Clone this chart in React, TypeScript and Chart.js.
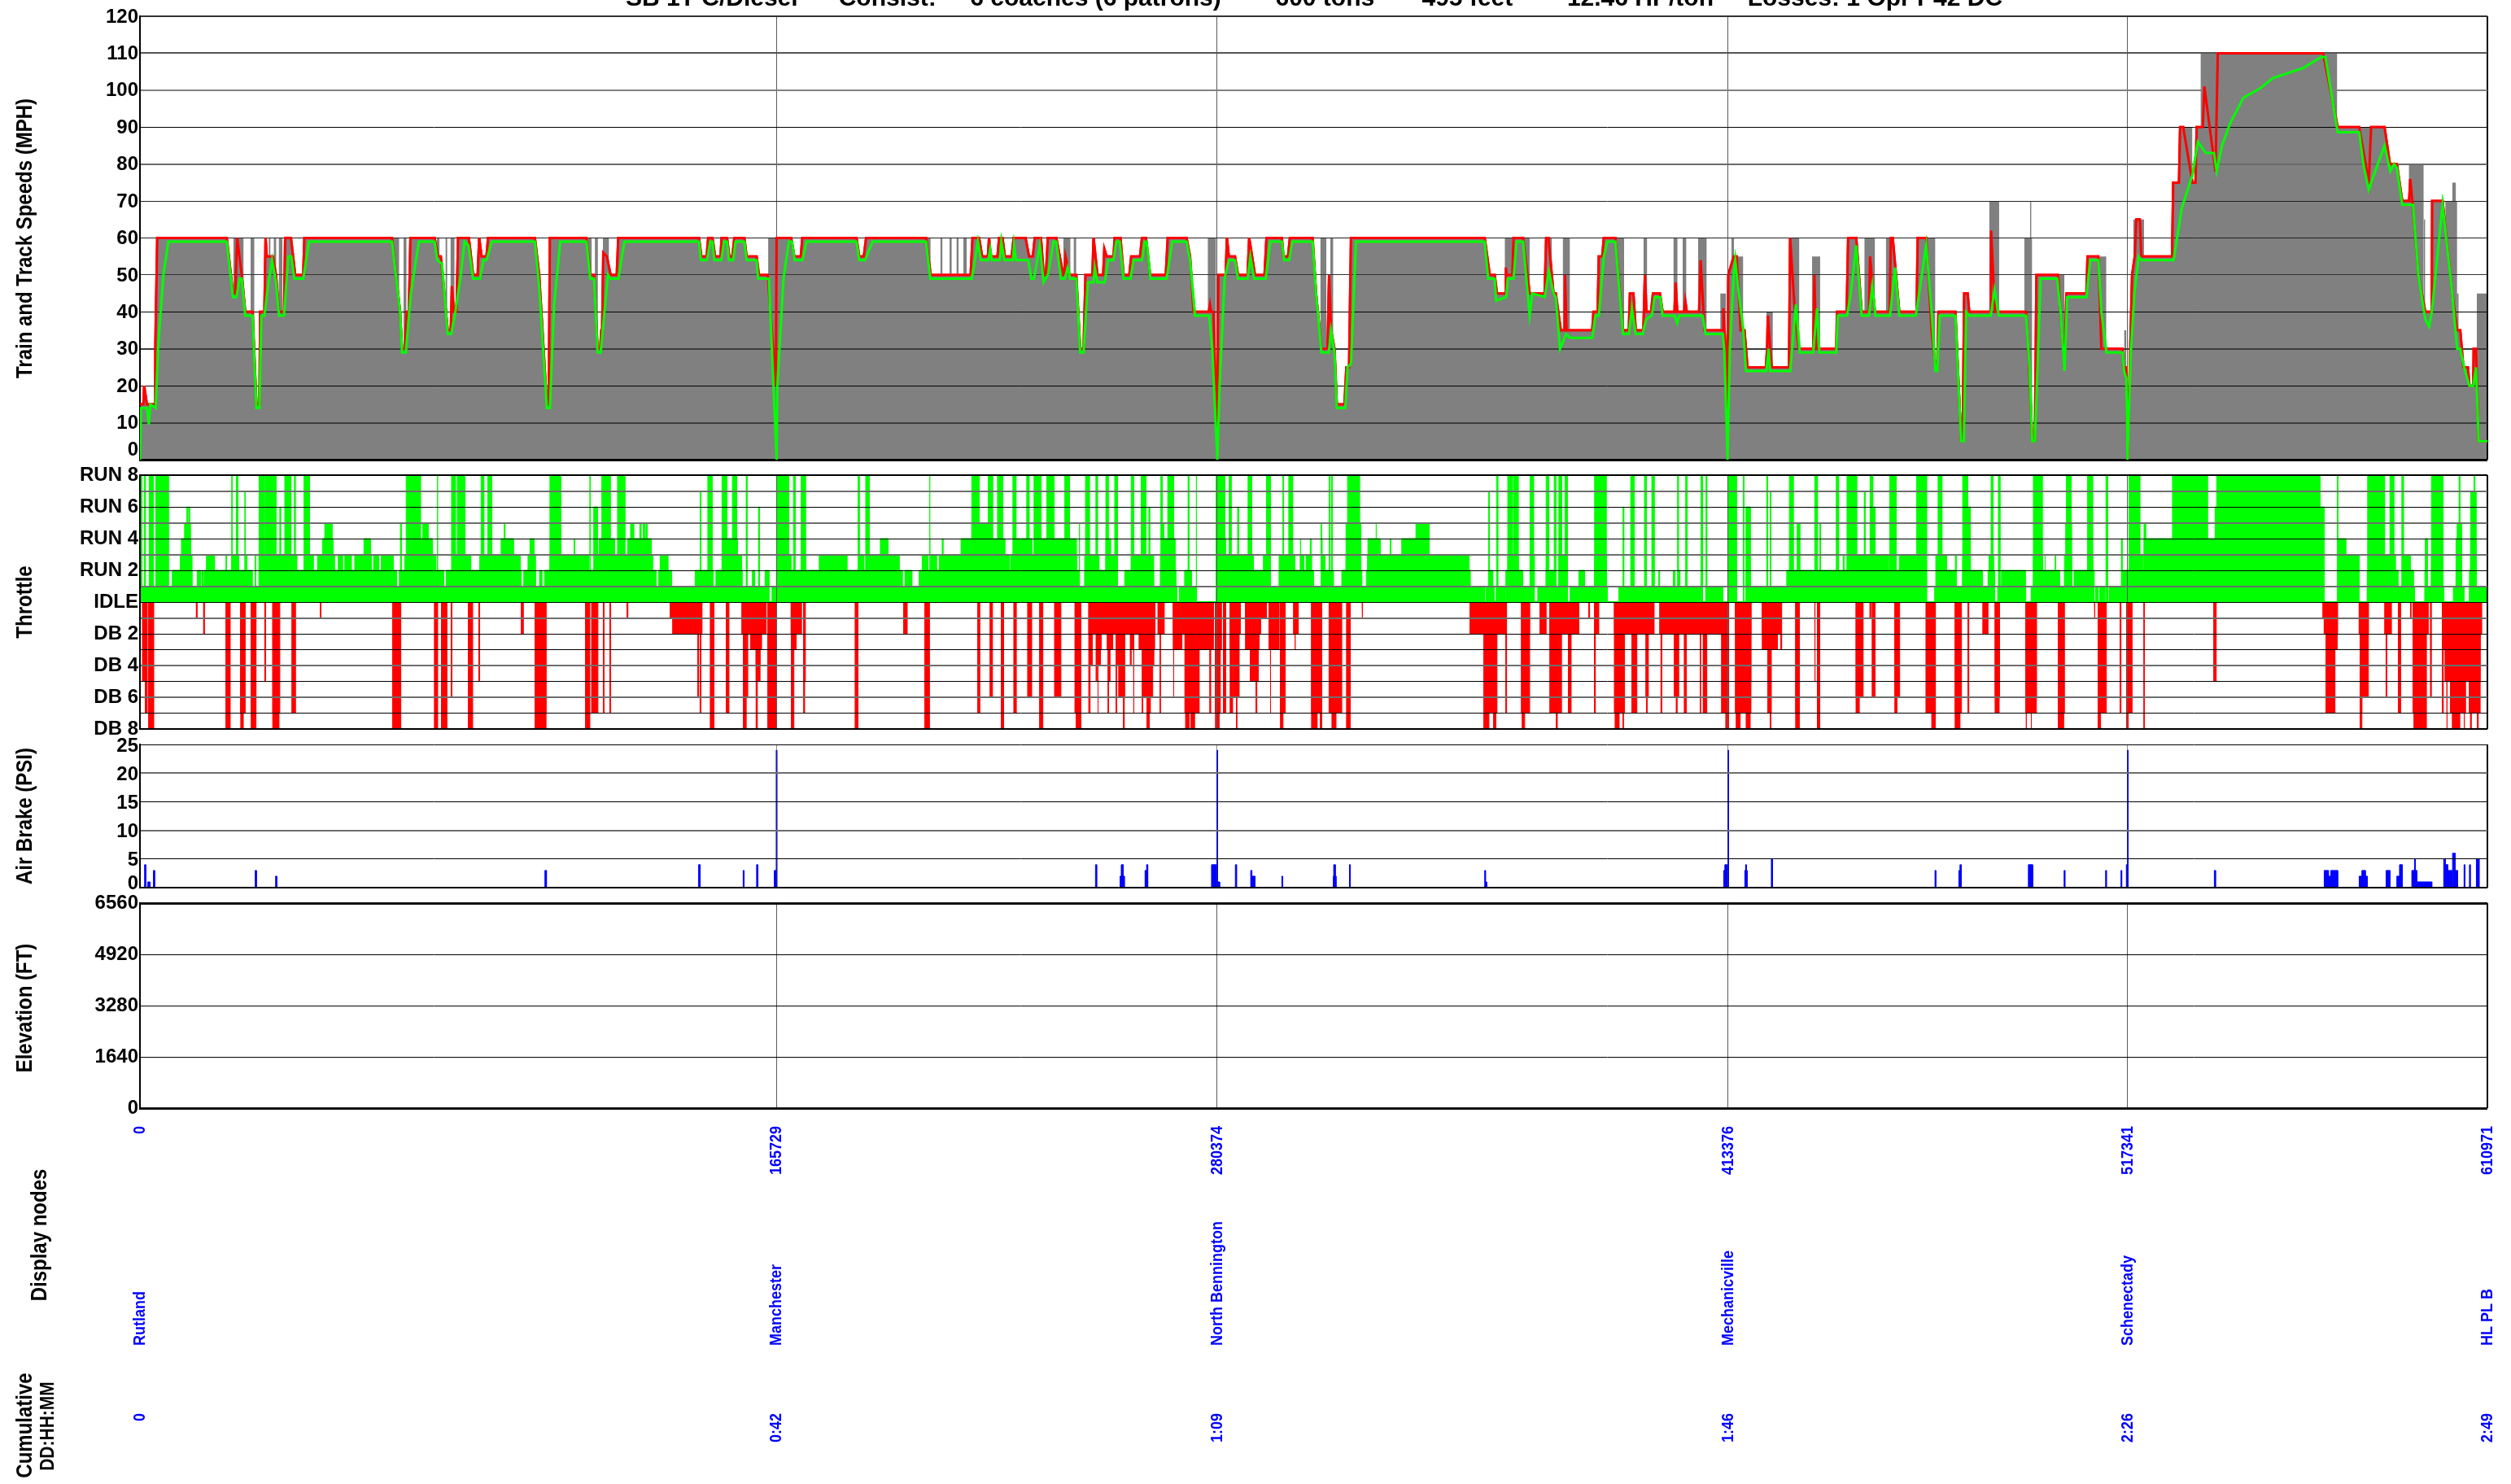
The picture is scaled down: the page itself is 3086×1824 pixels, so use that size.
import React, { useEffect, useRef } from "react";
import { Chart, registerables } from "chart.js";

Chart.register(...registerables);

const FONT = '"Liberation Sans", Arial, sans-serif';

// Route axis, in thousands of feet from Rutland
const routeEnd = 610.971;
const nodeFeet = [0, 165729, 280374, 413376, 517341, 610971];
const nodeNames = ["Rutland", "Manchester", "North Bennington", "Mechanicville", "Schenectady", "HL PL B"];
const nodeTimes = ["0", "0:42", "1:09", "1:46", "2:26", "2:49"];
const speedTicks = [0, 10, 20, 30, 40, 50, 60, 70, 80, 90, 100, 110, 120];
const brakeTicks = [0, 5, 10, 15, 20, 25];
const elevationTicks = [0, 1640, 3280, 4920, 6560];
const titleText = "SB 1T C/Diesel      Consist:     6 coaches (6 patrons)        600 tons       495 feet        12.46 HP/ton     Losses: 1 Opr P42 DC";

// Speed limit (red), [kft, mph]
const trackLimit = [
  [0,15],[0.9,15],[1.1,20],[1.8,15],[3.9,15],[4,30],[4.5,60],[22.6,60],[24.2,45],[24.8,45],[25.3,60],[26.5,50],[27.4,40],[29.3,40],[30.3,15],[31.1,15],[31.3,40],[32.4,40],[32.7,60],[33,55],[34.6,55],[35.4,50],[36.2,40],[37.5,40],[37.8,60],[39.3,60],[40.4,50],[42.5,50],[42.8,60],
  [65.6,60],[67.7,40],[68.2,30],[69,30],[69.4,40],[70,40],[70.4,60],[76.7,60],[77.6,55],[78.3,55],[80.1,35],[80.9,35],[81.2,47],[81.7,40],[82.4,40],[82.8,60],[85.6,60],[86.7,50],[87.9,50],[88.3,60],[88.9,55],[90.2,55],[90.6,60],[102.8,60],[103.9,50],[105.9,15],[106.4,15],[106.7,60],[116.2,60],[117.2,50],[118.2,50],[119.1,30],[119.8,30],[120.1,35],[120.3,35],[120.6,56],[121.5,55],[122.5,50],[124.1,50],[124.5,60],
  [145.5,60],[146.1,55],[147.5,55],[147.9,60],[149,60],[149.7,55],[151.1,55],[151.4,60],[152.8,60],[153.4,55],[154.2,55],[154.7,60],[157.3,60],[157.9,55],[160.5,55],[161.1,50],[163.4,50],[165.5,20],[165.7,60],[169.5,60],[170.3,55],[172,55],[172.4,60],
  [186.5,60],[187.2,55],[188.4,55],[189,60],[204.6,60],[205.8,50],[216.2,50],[216.7,60],[218.4,60],[219.2,55],[220.7,55],[221,60],[221.4,55],[223.2,55],[223.6,60],[224.5,60],[225.1,55],[226.9,55],[227.4,60],[230.5,60],[231.4,55],[232.4,55],[232.9,60],[234.5,60],[235.2,50],[235.8,50],[236.3,60],[238.5,60],[240.3,50],[240.6,50],[240.9,55],[241.9,50],[243.7,50],[244.7,30],[245.6,30],[246.1,50],[247.9,50],[248.2,60],[249.2,50],[250.7,50],[251,57],[251.6,55],[253.4,55],[253.7,60],[255.2,60],[256,50],[257.5,50],[258,55],[260.3,55],[260.8,60],[261.8,60],[262.9,50],[267,50],[267.5,60],[272.4,60],[273.3,55],[274.2,40],[278.2,40],[278.5,42],[278.8,40],[279.4,40],[280.3,5],[280.7,50],[282.6,50],[282.9,60],[283.4,55],[285,55],[285.8,50],[288.3,50],[288.7,60],[290.2,50],[292.7,50],[293.2,60],[297.2,60],[297.6,55],[298.8,55],[299.3,60],[305.2,60],[306.1,45],[307.5,30],[309.1,30],[309.5,50],[310,35],[310.9,30],[311.5,15],[313.5,15],[314,25],[314.7,25],[315.2,60],
  [350,60],[351.3,50],[352.6,50],[353.2,45],[355.4,45],[355.5,52],[355.7,50],[357.2,50],[357.5,60],[360,60],[361.7,45],[365.6,45],[366,60],[366.6,60],[367.9,45],[368.5,45],[369.8,35],[370.8,35],[370.9,50],[371.3,35],[372.4,35],[378,35],[378.3,40],[379.4,40],[379.7,55],[380.6,55],[381,60],[384,60],[386,35],[387.5,35],[387.8,45],[388.7,45],[389.3,35],[391.3,35],[391.7,50],[392.1,40],[393.3,40],[393.8,45],[395.6,45],[396.3,40],
  [399.4,40],[399.7,48],[400.1,40],[401.9,40],[402.2,43],[402.6,40],[405.8,40],[406.2,54],[407.2,35],[412,35],[412.1,41],[412.7,30],[413.1,5],[413.4,50],[414.8,55],[415.6,55],[416.6,35],[417.6,35],[418.4,25],[423.2,25],[423.5,30],[423.7,39],[424.3,30],[424.7,25],[429.2,25],[429.5,60],[430.6,42],[431.7,30],[435.5,30],[435.8,50],[436.3,30],[441.5,30],[441.7,40],[444.2,40],[444.6,60],[446.7,60],[448.1,40],[450,40],[450.3,55],[451.5,40],[455.4,40],[455.7,60],[456.2,60],[457.9,40],[462.4,40],[462.7,60],[464.9,60],[466.3,35],[467.3,25],[467.8,25],[468.1,40],[472.5,40],[474,5],[474.4,5],[474.8,45],[475.7,45],[476.1,40],[481.7,40],[481.8,62],[482.8,40],[490.9,40],[491.5,30],[492.5,5],[493.2,5],[493.6,50],[499.2,50],[500.9,25],[501.4,45],[506.6,45],[506.9,55],[509.7,55],[510.5,30],[511.8,30],[516,30],[516.3,25],[517,25],[517.3,0],[518.5,50],[519.2,55],[519.6,65],[520.5,65],[520.9,55],
  [528.9,55],[529.2,75],[530.7,75],[531,90],[531.8,90],[534.2,75],[535,75],[535.3,90],[536.9,90],[537.3,101],[540.2,78],[540.8,110],[568.2,110],[572,90],[577.6,90],[580.1,75],[580.7,90],[584.2,90],[585.6,80],[587.4,80],[588.8,70],[590.6,70],[590.9,76],[591.6,68],[593,50],[594.8,40],[596.5,40],[596.6,70],[599.3,70],[601.8,45],[603.1,35],[603.9,35],[604.7,25],[605.9,25],[606.3,20],[607.3,20],[607.4,30],[608,30],[608.7,5],[611,5],
];

// Train speed (green), [kft, mph]
const trainSpeed = [
  [0,0],[0.3,14],[1.1,14],[1.8,14],[2.3,9.5],[2.7,15],[4.1,14],[4.7,30],[6.1,50],[7.4,59],[22.6,59],[24.2,44],[25.1,44],[26,49],[26.5,49],[27.4,39],[29.3,39],[30.3,14],[31.1,14],[31.6,39],[32.4,39],[33.2,46],[34.4,54],[35.4,48],[36.2,39],[37.5,39],[38.6,55],[39.4,55],[40.2,49],[42.5,49],[44,59],
  [65.6,59],[67.7,40],[68.2,29],[69.2,29],[70.5,45],[72.6,59],[76.7,59],[77.4,54],[78.6,53],[80.1,34],[81,34],[82.1,40],[83.5,50],[84.5,59],[85.5,58],[86.7,49],[88.5,49],[89.4,54],[90.2,54],[91.6,59],[102.8,59],[103.9,47],[105.9,14],[106.7,14],[107.8,42],[109.4,59],[116.2,59],[117.2,49],[118.2,49],[119.1,29],[119.9,29],[120.9,40],[121.8,50],[122.5,49],[124.5,49],[126.1,59],
  [145.5,59],[146,54],[147.6,54],[148.4,59],[149,59],[149.5,54],[151.3,54],[152,59],[152.8,59],[153.3,54],[154.4,54],[155,59],[157.3,59],[157.9,54],[160.5,54],[160.9,49],[163.7,49],[165.7,0],[165.9,20],[167.5,49],[168.9,59],[169.7,59],[170.4,54],[172.4,54],[173.5,59],
  [186.5,59],[187.2,54],[188.7,54],[190.7,59],[204.6,59],[205.7,49],[216.5,49],[218.1,59],[218.9,54],[220.8,54],[221.3,57],[221.7,54],[223.8,54],[224.2,59],[225,54],[227.2,54],[227.5,58],[228,54],[231.2,54],[232,49],[232.7,49],[234.2,58],[235.2,48],[236.3,50],[237.8,59],[238.5,59],[239.7,49],[240.7,49],[241.5,52],[242.1,49],[243.7,49],[244.7,29],[245.6,29],[246.7,48],[248.2,48],[248.5,52],[249.2,48],[251.1,48],[252,54],[253.4,54],[254.1,59],[255,59],[256,49],[257.8,49],[258.6,54],[260.8,54],[261.5,59],[262,59],[263,49],[267.2,49],[268.7,59],[272.4,59],[273.3,54],[274.6,39],[278.3,39],[279.1,30],[280.4,0],[281,20],[282.3,49],[283.4,54],[285,54],[285.8,49],[288.3,49],[289,55],[290,49],[293,49],[294.2,59],[297.2,59],[297.8,54],[299.1,54],[299.9,59],[305.2,59],[306.1,45],[307.5,29],[309.4,29],[310,35],[310.9,29],[311.5,14],[313.7,14],[314.3,25],[315.2,26],[316.5,59],
  [350,59],[350.9,49],[352.6,49],[353,43],[355.6,44],[356,49],[357.5,49],[358.3,59],[360,59],[361.7,39],[362.4,45],[365.6,44],[366.7,51],[367.9,45],[368.5,44],[369.6,30],[371.2,34],[372.2,33],[378,33],[378.8,39],[379.7,39],[381,55],[381.9,59],[384,59],[386,34],[387.5,34],[388.3,41],[389.3,34],[391.1,34],[392,38],[393.5,39],[394.2,44],[395.7,44],[396.3,39],
  [399.4,39],[400.1,37],[400.6,39],[405.8,39],[406.7,39],[407.5,34],[412,34],[412.4,29],[413.2,0],[413.8,30],[414.8,50],[415.2,54],[415.9,47],[417.3,35],[418,24],[423.3,24],[423.9,30],[424.3,24],[429.5,24],[431,42],[432,29],[435.5,29],[436.5,41],[437.1,29],[441.5,29],[441.9,39],[444.3,39],[445.3,45],[446.7,58],[448.1,39],[450,39],[450.9,47],[451.7,39],[455.5,39],[456.8,52],[457.9,39],[462.2,39],[463.5,48],[464.9,58],[466.3,40],[467.3,24],[467.8,24],[468.4,39],[472.5,39],[474,5],[474.7,5],[475.3,40],[476.1,39],[481.7,39],[482.7,46],[483.8,39],[490.9,39],[491.8,25],[492.5,5],[493.2,5],[494.7,49],[499,49],[499.9,40],[500.9,24],[501.6,44],[506.6,44],[507.6,54],[509.7,54],[510.5,40],[511.8,29],[516,29],[516.4,24],[517,22],[517.3,0],[518.1,28],[519.1,45],[520.2,55],[520.9,54],
  [529.3,54],[531.4,68],[534.2,77],[535.6,86],[537.7,83],[539.8,83],[540.5,78],[541.9,85],[544,91],[547.5,98],[551.7,100.4],[555.2,103.3],[563,106],[567.8,109],[568.8,109],[572,88.6],[577.6,88.6],[578.7,80],[580.1,73],[580.7,75],[584.2,85],[585.7,78],[586.7,80],[587.4,79],[588.8,69],[591.6,69],[593,50],[594.8,38],[595.8,36],[596.5,40],[599.3,69],[601.8,45],[603.1,30],[603.9,30],[604.9,25],[606.3,20],[607.3,20],[608,25],[608.7,5],[611,5],
];

// Track-speed grey that stands above the red line, [start, end, mph]
const trackBands = [
  [24.3,27,60],[28.8,29.8,60],[33.5,34,60],[34.8,35.5,60],[36.1,37.1,60],[65.5,67.5,60],[68.6,69.4,60],[77.3,78,60],[79.5,80,60],[80.8,81.9,60],[116.5,117.6,60],[118.4,119.2,60],[120.5,122.1,60],[163.5,165.7,60],
  [204.8,205.8,60],[208.3,208.9,60],[210.7,211.3,60],[212.5,213.1,60],[214.3,215.2,60],[240.3,242.2,60],[243,243.7,60],[277.9,280.1,60],[307.2,308.8,60],[309.8,310.6,60],[355.2,357.2,60],[360,361.7,60],[366,367.5,60],[370.3,372.2,60],[383.8,386.3,60],[391.3,392.3,60],[399.1,400.2,60],[401.5,402.5,60],[405.5,407.8,60],[411.3,412.8,45],[414.2,414.9,60],[415.1,417.3,55],[423.3,425,40],[429.5,431.9,60],[435.2,437.3,55],[448.8,449.9,60],[449.8,451.6,60],[454.4,456.5,60],[464.9,467.3,60],[481.3,483.9,70],[491.9,492.3,70],[490.4,492.5,60],[499.2,500.9,50],[509.7,511.8,55],[516.4,517,35],[518.8,521.6,65],
  [532,534.2,90],[536.3,540.8,110],[568.2,571.9,110],[577.6,584.3,90],[584.3,588,80],[590.5,594.4,80],[594.4,594.8,65],[601.8,602.8,75],[600,603.1,70],[603,603.5,45],[608.2,611,45],
];
// Pale seams in the grey fill, [kft, mph]
const paleSeams = [[23.6,44],[41,50],[80.5,35],[87.2,50],[152.9,60],[185.8,60],[212.2,50],[225.6,55],[256,50],[312.2,15],[370.2,35],[513.6,30],[600.3,55]];

// Throttle notches: stretches of route at or above each notch, [start, end] in kft
const run8 = [[0.3,0.5],[1.2,1.4],[2.4,3.5],[4.1,7.4],[23.9,24],[25.1,25.5],[31,32.4],[32.7,34.6],[34.8,35.4],[37.7,39.3],[40.2,40.4],[42.7,44.1],[69.3,73],[77.4,77.5],[81.1,82.1],[82.6,84.6],[88.8,89.5],[90.5,91.5],[106.7,109.5],[117.1,117.2],[120.2,122.4],[124.3,126.2],[147.8,148.9],[151.5,152.7],[154.2,155.3],[157.8,158],[165.7,168.8],[170.1,170.5],[172.1,173.2],
  [186.9,187.2],[188.9,189.8],[205.5,205.6],[216.5,218.4],[220.8,221.9],[223.2,224.5],[227.2,228],[230.8,231.4],[232.7,234.5],[236,237.9],[240.7,241.9],[246.1,247.1],[248.8,249.2],[251.4,252],[253.7,254.4],[258,258.6],[260.6,261.8],[265.7,266.1],[267.5,269],[272.8,273],[274.9,275],[280.1,282.3],[283.5,284],[288.4,289.3],[293.2,294.2],[297.5,297.6],[299,300],[309.5,309.7],[310.1,310.3],[314.3,317.4],[353.1,353.4],[356,357.2],[357.5,358.7],[361.8,362.7],[366,366.6],[368.1,368.5],[369.3,370],[370.9,371.5],[378.6,381.6],[388,388.9],[391.6,392.1],[393.5,394.1],[400.2,400.4],[402.3,402.7],[406.3,406.7],
  [407.6,407.8],[413.5,415.5],[417.3,417.5],[423.4,423.6],[429.3,430.3],[435.9,436.6],[441.5,442.1],[444.3,446.8],[450.3,451],[455.4,457.1],[462.4,465],[468,469],[474.4,475.7],[481.8,482.3],[483.7,484.1],[492.8,495.1],[501.4,502.6],[506.9,508.2],[511.7,512.1],[517.7,520.5],[529,538.1],[540.5,567.4],[571.9,572.1],[579.8,584.2],[585.6,586.6],[588.7,589.1],[596.4,599.4],[603.6,603.8],[607.5,607.7]];
const run7 = [[27.3,27.4],[145.8,146],[351,351.2],[424.3,424.5],[448.8,449],[606.6,608]];
const run6 = [[12.2,12.4],[12.7,12.9],[36.4,36.6],[118.1,119.1],[161,161.2],[262.6,262.8],[285.7,285.9],[386,386.2],[418,419.1],[450.9,451.6],[475.4,476.4],[540.1,568.5]];
const run5 = [[11.6,13.1],[48.1,50],[67.8,68],[73.6,75],[94.8,95],[127.7,128.5],[130.1,130.4],[131,131.3],[131.7,132],[216.5,220.7],[244.4,244.6],[266.2,266.5],[307.4,307.5],[313.9,317.7],[321.7,321.8],[332.1,335.5],[431.3,432],[437.2,437.4],[501.2,502.7],[521.6,522],[603.1,604.3]];
const run4 = [[10.8,13.2],[47.5,50.2],[58.3,60],[73,76.1],[94,97.2],[101.5,102.6],[113,113.1],[119.5,123.5],[126.9,133.1],[151.9,155.5],[192.7,194.7],[205.5,205.6],[208.8,209],[213.7,225.1],[227.4,232.1],[232.7,243.7],[251.4,252.6],[266.3,269.4],[280.1,282.6],[302,302.1],[304.6,304.8],[307.6,307.7],[319.6,322.8],[325.4,325.6],[328.4,335.5],[483.8,484],[515.7,515.9],[521.6,568.5],[572,574.1],[594.8,595.4],[602.8,603.9],[606.6,608]];
const run3 = [[10.5,13.5],[17.3,19.4],[22.4,22.5],[23.9,25.7],[27.7,27.8],[30,30.1],[31,40.8],[42.7,45.1],[46.2,50.6],[51.6,52.7],[53.3,55],[55.9,60.2],[60.8,62.1],[62.8,65.9],[68.9,77],[81.3,86.1],[88.4,99],[101,102.9],[106.7,116.8],[118.8,133.4],[135.4,137.4],[151.5,156.6],[165.7,169.4],[172.1,173.2],
  [176.8,184],[186.9,188.4],[188.9,197.6],[203.6,205.1],[205.8,207.3],[208,226.2],[226.6,243.7],[245.9,249.6],[251.4,254.1],[258,263.8],[265.6,269.4],[280.1,289.8],[292.4,294.2],[296.5,300.5],[302,302.9],[303.5,304.9],[307.6,308.4],[313.9,317.7],[319.5,345.9],[356,358.7],[361.8,362.9],[366,366.6],[369.3,371.5],[378.6,381.6],[443.3,443.5],[444.3,455.1],[457.9,464.9],[467.4,470.2],[472.5,472.7],[474.4,476.4],[481.3,482.4],[492.8,495.1],[495.8,495.9],[498.5,498.6],[500.9,502.7],[506.9,508.2],[517.7,521.2],[521.6,568.5],[572.1,577.6],[580.1,587],[588.8,590.9],[596.4,599.4],[606.6,608.1]];
const run2 = [[8.4,13.5],[14.9,15.7],[16.1,16.4],[16.7,29.2],[31,37.3],[37.8,66.8],[67.5,79.1],[79.7,99.2],[99.9,102.9],[104,104.6],[105.3,134.3],[135,137.7],[138,138.4],[144.5,149.2],[149.9,156.7],[159.4,160],[162.7,163.7],[165.7,198.4],[199.1,200.9],[202.8,244.4],[245.9,254.1],[256.3,263.8],[265.6,269.6],[271.9,273.7],[280.1,294.2],[296.5,305.4],[307.6,310.6],[312.8,318],[319.2,346.2],[351,352.1],[355.5,359.9],[362.3,362.7],[366,368.5],[369.3,371.5],[374.5,376],[378.6,381.6],[395.3,395.5],[399.1,399.5],[400.5,400.8],[402.3,402.5],[413.5,415.5],[418,419.1],[428.6,446.7],[448.4,464.9],[467.7,472.6],[474.4,479.5],[481,482.7],[484.5,490.7],[492.9,499.6],[500.9,502.7],[503.4,508.6],[516,568.5],[571.9,577.6],[579.7,587.7],[588.8,591.7],[594.7,594.9],[596.4,599.4],[602.8,604.2],[606.3,608.1]];
const run1 = [[0,57.4],[57.6,163.5],[164.5,165.2],[165.5,244.2],[244.6,249],[249.3,257.8],[258.3,261.5],[262.6,269.9],[270.5,275],[280.1,350],[350.4,352.5],[353,355.2],[355.8,359.6],[360,362.6],[363.8,366.3],[368.1,371.5],[372.2,381.9],[384.9,406.1],[407.5,412],[413.5,415.6],[418,446.7],[448.2,457.2],[457.9,464.9],[467.1,482.7],[483.5,490.8],[492.2,508.3],[509,509.6],[510,511.4],[512.5,568.5],[571.9,577.6],[579.7,592],[594.7,599.6],[602.1,604.9],[606.3,611]];

// Dynamic-brake notches, [start, end] in kft
const db8 = [[2.3,3.6],[22.4,23.5],[26.3,26.9],[29,30.2],[34.6,36.2],[65.8,67.9],[76.7,77.5],[78.5,79.9],[85.5,86.6],[102.9,105.7],[116,117.1],[148.5,149.4],[157.1,157.8],[160.4,160.7],[163.4,165.6],[169.6,170.2],
  [186.2,186.9],[204.3,205.5],[224.2,224.8],[234.2,235],[243.7,244.9],[256,256.2],[262.1,262.7],[272.2,273.1],[273.6,274.5],[280,280.9],[285.4,285.5],[296.9,297.5],[305,306.4],[307.2,307.6],[310.3,311.3],[314.1,315],[349.8,351.1],[352.3,352.9],[359.8,360.4],[368.7,368.9],[384,385],[386,386.1],
  [412.8,413.5],[415.5,416.5],[418.1,419.1],[424.3,424.5],[431,431.9],[436.6,437.2],[466.4,467.3],[472.5,473.7],[490.9,491],[492.2,492.3],[499.3,500.7],[509.7,510.3],[517.1,517.5],[521.6,521.7],[577.9,578.3],[591.9,595.1],[600.4,600.5],[601.9,603.8],[604.9,605],[606.6,606.8],[608.4,608.6]];
const db7 = [[1.4,1.9],[26.2,27.4],[29,30.2],[34.6,36.4],[39.6,40.5],[102.9,105.7],[117.6,119.2],[120.6,120.8],[122.3,122.5],[145.8,146],[152.6,153.3],[172.8,173],
  [218.1,218.6],[227.5,228.1],[243.4,244.9],[247,247.3],[249.3,249.4],[252,252.1],[254.1,254.2],[258.6,258.7],[260.9,261],[262.1,263],[265.5,265.6],[272,275.7],[278.5,278.7],[280,281.2],[282,282.6],[283.8,284.4],[290.5,290.7],[294.2,294.3],[296.9,298.1],[305,307.6],[309.5,312.8],[314.3,315],[349.8,353.2],[355.5,355.7],[359.6,361.7],[367,370],[371.8,372.5],[378.6,378.8],[383.8,386.4],[388.3,389.6],[392.1,392.3],[395.9,396.1],[399.9,400.1],[402,402.5],[406.1,406.2],[406.9,407.8],[411.7,413.5],[415.3,419.3],[423.7,424.6],[431,431.9],[436.6,437.2],[446.7,447.5],[456.8,457.3],[464.9,467.3],[472.5,474.1],[475.8,476],[482.9,483.9],[490.8,493.6],[499.3,500.9],[509.7,511.8],[515.4,515.6],[517.1,518.5],[569,571.3],[577.9,578.3],[587.8,588.4],[591.6,595],[599.3,599.5],[600.4,600.5],[601.4,605.3],[606.3,609.1]];
const db6 = [[81,81.2],[145.2,145.4],[158,158.2],[221.3,221.9],[231.1,232.1],[238.1,239.7],[243.7,244.9],[254.8,256.3],[261.2,263.6],[269,269.1],[284.6,286.1],[392,392.6],[399.4,400.5],[446.7,448.5],[450.9,451.6],[456.8,458],[482.9,484],[493,493.6],[577.9,580],[584.6,584.8],[596.2,596.4]];
const db5 = [[0.7,1.5],[32.5,32.7],[88.2,88.4],[160.4,161.4],[172.8,173.2],[248.9,249.1],[252.3,252.5],[289,291.1],[418,419.3],[435.9,436],[517.5,518.2],[539.8,540.4],[600,609.1]];
const db4 = [[160.4,161.4],[247.2,247.9],[249,250],[254.5,255.6],[257.8,258],[261,263.9],[273.5,275.5],[424.3,424.5]];
const db3 = [[159,161.8],[169.7,170.8],[249.8,250.2],[251.8,253.2],[254.1,256.3],[257.9,258.5],[260.1,264.1],[269,271.2],[273.4,279.4],[281,281.5],[282,282.6],[283.8,286],[287.8,291.3],[293.9,296.5],[300.6,300.7],[422.3,424.3],[424.4,426.2],[427.1,427.3],[571,571.9],[599.3,609.1]];
const db2 = [[16.6,16.8],[99.3,99.8],[138.7,146.3],[156.7,163],[169.5,172.2],[198.8,199.7],[247,251.1],[251.1,264.2],[265,266.6],[269,279.4],[283.8,286.4],[289,291.7],[293.9,296.3],[300.3,301.5],[346.2,355.6],[359.8,361.7],[364.4,366],[367,374.5],[378.6,379.7],[383.8,394.1],[395.6,398],[397.7,413.4],[415.3,419.3],[422.2,427.1],[479.7,481],[568.5,572],[577.6,580],[584.3,586],[591.6,595.6],[599.3,609.5]];
const db1 = [[14.7,14.9],[47,47.1],[126.8,127],[138,138.7],[283.8,286.4],[287.8,288.2],[291.7,293.2],[318.1,318.2],[377.1,377.3],[450.3,450.5],[508.7,508.8],[568.2,568.6],[591,591.1]];

// Air brake, [start, end, psi]
const brakeSpikes = [
  [1.2,1.5,4],[2,2.6,1],[3.5,3.8,3],[30,30.3,3],[35.3,35.6,2],[105.4,105.8,3],[145.4,145.8,4],[157,157.2,3],[160.5,160.8,4],[165.1,165.5,3],[165.6,165.76,24],
  [248.7,249,4],[255.1,256.2,2],[255.4,255.9,4],[261.6,262,3],[262,262.3,4],[278.9,280.1,4],[280.1,281,1],[280.3,280.45,24],[285.1,285.4,4],[289.1,289.4,3],[289.2,290.2,2],[297.2,297.4,2],[310.7,311.1,4],[310.6,311.3,2],[314.8,315,4],[350,350.2,3],[350.2,350.5,1],
  [412.5,413.1,4],[412.2,412.6,3],[413.3,413.45,24],[417.7,418.3,3],[417.9,418.1,4],[424.6,424.9,5],[467.2,467.4,3],[473.4,473.8,3],[473.7,474,4],[491.5,492.6,4],[500.8,501,3],[511.6,511.8,3],[515.6,515.8,3],[517,517.2,4],[517.3,517.45,24],[539.9,540.2,3],
  [568.5,569.6,3],[569.6,570.2,2],[570.2,572,3],[577.6,579.7,2],[578.3,579.2,3],[584.6,585.6,3],[587.4,588.8,2],[588.1,588.8,4],[591.3,592.6,3],[592,592.2,5],[592.6,596.5,1],[599.6,600,5],[600,600.7,4],[600.7,601.8,3],[601.9,602.6,6],[602.6,603.2,3],[604.9,605.1,4],[606.3,606.5,4],[608.1,608.8,5],
];

const GREEN = "#00ff00", RED = "#ff0000", GREY = "#808080", BLUE = "#0000ff";

type Band = number[];
const rectPath = (bands: Band[], level: number) => {
  const pts: { x: number; y: number }[] = [];
  [...bands].sort((a, b) => a[0] - b[0]).forEach(([s, e]) => {
    pts.push({ x: s, y: 0 }, { x: s, y: level }, { x: e, y: level }, { x: e, y: 0 });
  });
  return pts;
};
const bandSet = (bands: Band[], level: number, color: string, thin = 1) => ({
  type: "line", data: rectPath(bands, level), borderColor: color, backgroundColor: color,
  borderWidth: thin, pointRadius: 0, fill: "origin", tension: 0,
});
const linePts = (rows: number[][]) => rows.map(([x, y]) => ({ x, y }));

const nudgeLabels = (scale: any, shift: (label: string) => number) => {
  const items = scale.getLabelItems();
  items.forEach((it: any) => {
    if (it.__done) return;
    it.__done = true;
    it.options.translation[1] += shift(String(it.label));
  });
};

const rotText = (ctx: any, text: string, x: number, y: number, size: number, color: string, align: string, stretch = 1.15) => {
  ctx.save();
  ctx.translate(x, y);
  ctx.rotate(-Math.PI / 2);
  ctx.scale(1, stretch);
  ctx.font = `bold ${size}px ${FONT}`;
  ctx.fillStyle = color;
  ctx.textAlign = align;
  ctx.textBaseline = "middle";
  ctx.fillText(text, 0, 0);
  ctx.restore();
};

const xAxis = (lineColor = "#5a5a5a") => ({
  type: "linear", min: 0, max: routeEnd,
  afterBuildTicks: (s: any) => { s.ticks = nodeFeet.map((f) => ({ value: f / 1000 })); },
  ticks: { display: false, autoSkip: false },
  border: { display: false },
  grid: {
    z: 1, drawTicks: false,
    color: (c: any) => (c.tick && c.tick.value >= routeEnd - 0.01 ? "#000000" : lineColor),
    lineWidth: (c: any) => (c.tick && c.tick.value >= routeEnd - 0.01 ? 2 : 1),
  },
});

const yAxisBase = (min: number, max: number) => ({
  type: "linear", min, max,
  afterFit: (s: any) => { s.width = 172; },
  border: { display: true, color: "#000000", width: 2, z: 2 },
  ticks: {
    autoSkip: false, padding: 2, maxRotation: 0, minRotation: 0,
    color: "#000000", font: { family: FONT, weight: "bold", size: 24 },
    callback: (v: number) => String(v),
  },
});

function makeChart(canvas: HTMLCanvasElement, cfg: any) {
  return new Chart(canvas, {
    type: "line",
    data: { datasets: cfg.datasets },
    plugins: cfg.plugins,
    options: {
      animation: false, responsive: false, maintainAspectRatio: false, devicePixelRatio: 1,
      layout: { autoPadding: false, padding: { left: 0, right: 29, top: 20, bottom: cfg.bottom ?? 20 } },
      plugins: { legend: { display: false }, tooltip: { enabled: false }, title: { display: false } },
      events: [],
      scales: { x: xAxis(cfg.xLine), y: cfg.y },
    },
  } as any);
}

const panelStyle = (top: number, h: number) => ({ position: "absolute" as const, left: 0, top, width: 3086, height: h, display: "block" });

export default function App() {
  const speedRef = useRef<HTMLCanvasElement>(null);
  const throttleRef = useRef<HTMLCanvasElement>(null);
  const brakeRef = useRef<HTMLCanvasElement>(null);
  const elevRef = useRef<HTMLCanvasElement>(null);

  useEffect(() => {
    const charts: any[] = [];

    // Speeds
    const speedGridStyle: Record<number, [string, number]> = {
      120: ["#333333", 2], 110: ["#555555", 2], 100: ["#808080", 2], 90: ["#000000", 1], 80: ["#6a6a6a", 2], 70: ["#222222", 1],
      60: ["#222222", 1], 50: ["#333333", 1], 40: ["#000000", 1], 30: ["#3c3c3c", 2], 20: ["#000000", 1], 10: ["#3c3c3c", 2], 0: ["#000000", 3],
    };
    const seams: any[] = [];
    paleSeams.forEach(([k, top]) => { seams.push({ x: k, y: 0 }, { x: k, y: top }, { x: k, y: NaN }); });
    const speedDatasets: any[] = [
      { data: linePts(trackLimit), borderWidth: 0, borderColor: GREY, backgroundColor: GREY, pointRadius: 0, fill: "origin", tension: 0 },
      ...trackBands.map((b) => bandSet([b], b[2], GREY, 0)),
      { data: seams, borderColor: "#a8a8a8", borderWidth: 1, pointRadius: 0, fill: false, spanGaps: false },
      { data: linePts(trackLimit), borderColor: RED, borderWidth: 3, pointRadius: 0, fill: false, tension: 0, borderJoinStyle: "miter" },
      { data: linePts(trainSpeed), borderColor: GREEN, borderWidth: 3, pointRadius: 0, fill: false, tension: 0, borderJoinStyle: "miter" },
    ];
    const lineIdx = [speedDatasets.length - 2, speedDatasets.length - 1];
    charts.push(makeChart(speedRef.current!, {
      datasets: speedDatasets,
      y: {
        ...yAxisBase(0, 120),
        afterBuildTicks: (s: any) => { s.ticks = speedTicks.map((v) => ({ value: v })); },
        grid: {
          z: 1, drawTicks: false,
          color: (c: any) => speedGridStyle[c.tick?.value]?.[0] ?? "#000",
          lineWidth: (c: any) => speedGridStyle[c.tick?.value]?.[1] ?? 1,
        },
      },
      plugins: [{
        id: "speedDecor",
        beforeDraw(c: any) { nudgeLabels(c.scales.y, (l) => (l === "0" ? -12 : 1)); },
        afterDraw(c: any) {
          const { ctx, chartArea: a } = c;
          ctx.save();
          ctx.beginPath();
          ctx.rect(a.left, a.top - 2, a.right - a.left, a.bottom - a.top + 4);
          ctx.clip();
          lineIdx.forEach((i) => c.getDatasetMeta(i).controller.draw());
          ctx.restore();
          ctx.save();
          ctx.font = `bold 30px ${FONT}`;
          ctx.fillStyle = "#000";
          ctx.textAlign = "center";
          ctx.textBaseline = "alphabetic";
          ctx.fillText(titleText, 1615, 7);
          ctx.restore();
          rotText(ctx, "Train and Track Speeds (MPH)", 31, 293, 24, "#000", "center");
        },
      }],
    }));

    // Throttle
    const throttleLabels: Record<number, string> = { 8: "RUN 8", 6: "RUN 6", 4: "RUN 4", 2: "RUN 2", 0: "IDLE", [-2]: "DB 2", [-4]: "DB 4", [-6]: "DB 6", [-8]: "DB 8" };
    const throttleSoft = new Set([7, 5, 3, 1, -1, -4, -6]);
    const runs = [run1, run2, run3, run4, run5, run6, run7, run8];
    const dbs = [db1, db2, db3, db4, db5, db6, db7, db8];
    charts.push(makeChart(throttleRef.current!, {
      datasets: [
        ...runs.map((b, i) => bandSet(b, i + 1, GREEN)),
        ...dbs.map((b, i) => bandSet(b, -(i + 1), RED)),
      ],
      y: {
        ...yAxisBase(-8, 8),
        afterBuildTicks: (s: any) => {
          const t: any[] = [];
          for (let v = -8; v <= 8; v++) t.push({ value: v });
          s.ticks = t;
        },
        ticks: { ...yAxisBase(-8, 8).ticks, callback: (v: number) => throttleLabels[v] ?? "" },
        grid: {
          z: 1, drawTicks: false,
          color: (c: any) => (throttleSoft.has(c.tick?.value) ? "#6e6e6e" : "#000000"),
          lineWidth: (c: any) => (throttleSoft.has(c.tick?.value) ? 2 : Math.abs(c.tick?.value) === 8 ? 2 : 1),
        },
      },
      plugins: [{
        id: "throttleDecor",
        afterDraw(c: any) { rotText(c.ctx, "Throttle", 31, 740 - 564, 24, "#000", "center"); },
      }],
    }));

    // Air brake
    const brakeLevels = Array.from(new Set(brakeSpikes.map((b) => b[2]))).sort((a, b) => a - b);
    charts.push(makeChart(brakeRef.current!, {
      datasets: brakeLevels.map((lv) => bandSet(brakeSpikes.filter((b) => b[2] === lv), lv, BLUE)),
      xLine: "rgba(50,50,50,0.55)",
      y: {
        ...yAxisBase(0, 25),
        afterBuildTicks: (s: any) => { s.ticks = brakeTicks.map((v) => ({ value: v })); },
        grid: {
          z: 1, drawTicks: false,
          color: (c: any) => (c.tick?.value === 20 || c.tick?.value === 10 ? "#6e6e6e" : "#000000"),
          lineWidth: (c: any) => (c.tick?.value === 20 || c.tick?.value === 10 || c.tick?.value === 0 ? 2 : 1),
        },
      },
      plugins: [{
        id: "brakeDecor",
        beforeDraw(c: any) { nudgeLabels(c.scales.y, (l) => (l === "0" ? -5 : 2)); },
        afterDraw(c: any) { rotText(c.ctx, "Air Brake (PSI)", 31, 1003 - 895, 24, "#000", "center"); },
      }],
    }));

    // Elevation (no profile in this run) and the route labels below it
    charts.push(makeChart(elevRef.current!, {
      datasets: [{ data: [], pointRadius: 0 }],
      bottom: 1824 - 1362,
      y: {
        ...yAxisBase(0, 6560),
        afterBuildTicks: (s: any) => { s.ticks = elevationTicks.map((v) => ({ value: v })); },
        grid: {
          z: 1, drawTicks: false,
          color: (c: any) => (c.tick?.value === 6560 || c.tick?.value === 0 ? "#111111" : "#000000"),
          lineWidth: (c: any) => (c.tick?.value === 6560 || c.tick?.value === 0 ? 3 : 1),
        },
      },
      plugins: [{
        id: "elevDecor",
        afterDraw(c: any) {
          const { ctx, scales } = c;
          const base = 1090;
          rotText(ctx, "Elevation (FT)", 31, 1239 - base, 24, "#000", "center");
          rotText(ctx, "Display nodes", 49, 1518 - base, 24, "#000", "center");
          rotText(ctx, "Cumulative", 31, 1752 - base, 24, "#000", "center");
          rotText(ctx, "DD:HH:MM", 59, 1753 - base, 21, "#000", "center");
          nodeFeet.forEach((f, i) => {
            const x = scales.x.getPixelForValue(f / 1000);
            rotText(ctx, String(f), x, 1384 - base, 18, BLUE, "right");
            rotText(ctx, nodeNames[i], x, 1654 - base, 18, BLUE, "left");
            rotText(ctx, nodeTimes[i], x, 1737 - base, 18, BLUE, "right");
          });
        },
      }],
    }));

    return () => charts.forEach((c) => c.destroy());
  }, []);

  return (
    <div style={{ position: "absolute", left: 0, top: 0, width: 3086, height: 1824, overflow: "hidden", background: "#ffffff" }}>
      <canvas ref={speedRef} width={3086} height={585} style={panelStyle(0, 585)} />
      <canvas ref={throttleRef} width={3086} height={352} style={panelStyle(564, 352)} />
      <canvas ref={brakeRef} width={3086} height={216} style={panelStyle(895, 216)} />
      <canvas ref={elevRef} width={3086} height={734} style={panelStyle(1090, 734)} />
    </div>
  );
}
